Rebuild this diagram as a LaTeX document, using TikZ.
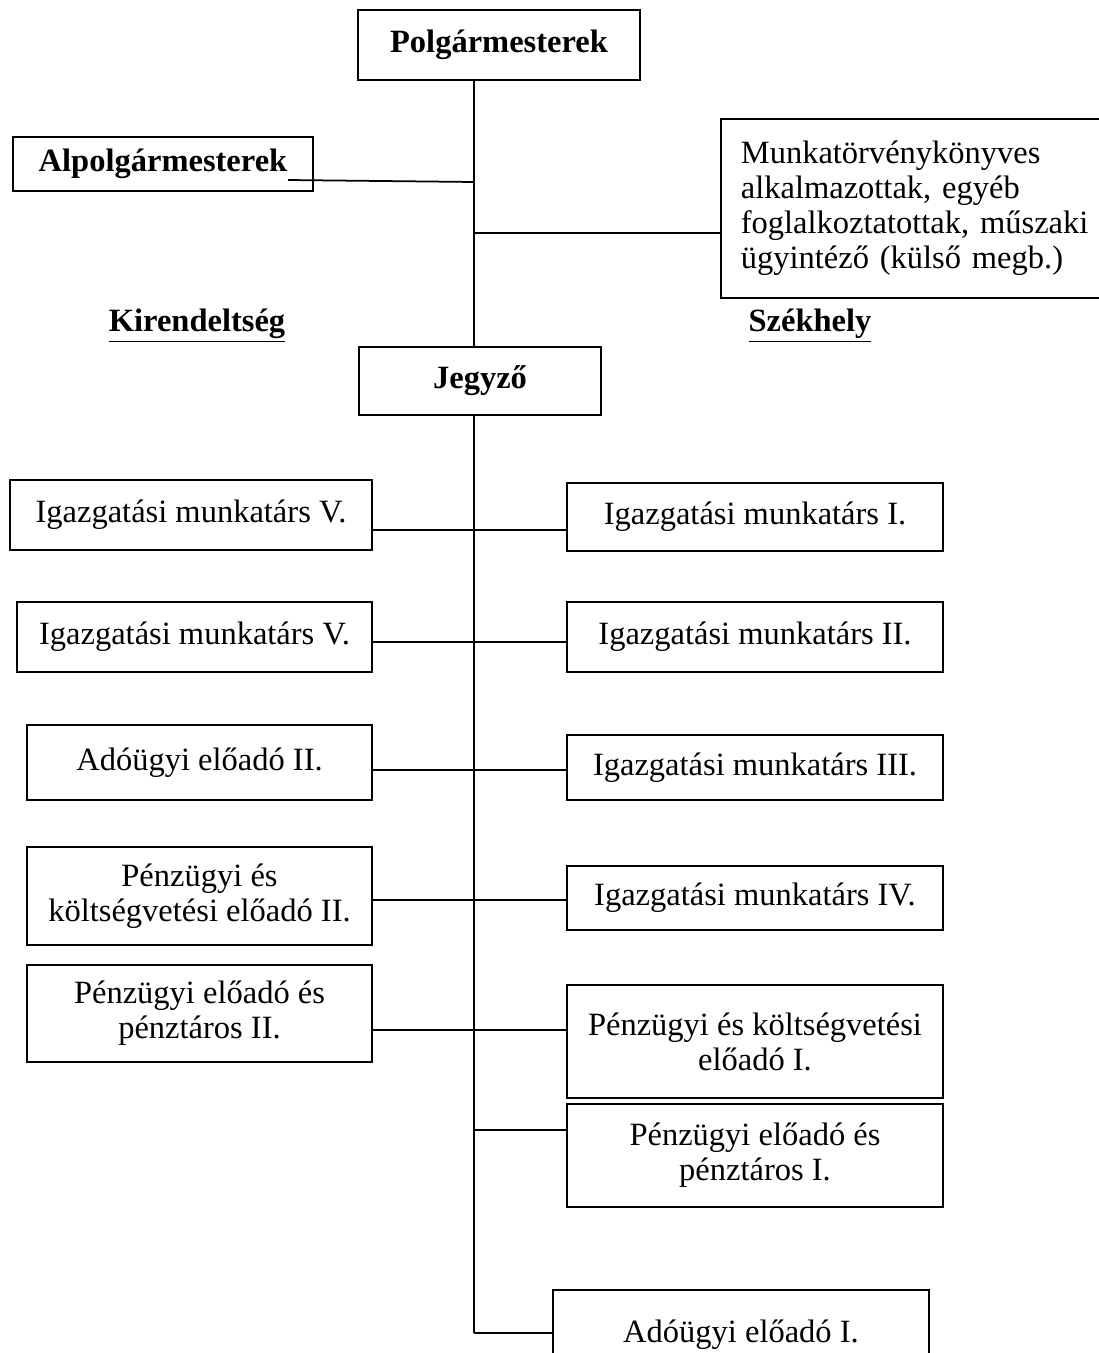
\documentclass[tikz,border=0pt]{standalone}
\usepackage{fontspec}
\setmainfont{Liberation Serif}

\begin{document}
\begin{tikzpicture}[x=0.4pt,y=-0.4pt,line width=0.7pt,
    every node/.style={font=\fontsize{13}{14}\selectfont},
    post/.style={draw,inner sep=0pt,align=center},
    meret/.style 2 args={minimum width=#1*0.4pt,minimum height=#2*0.4pt}]
  \useasboundingbox (0,0) rectangle (1099,1353);
  % vezetes
  \node[post,meret={282}{70}] (polg) at (499,45) {\bfseries Polgármesterek};
  \node[post,meret={300}{54}] (alpolg) at (163,164) {\bfseries Alpolgármesterek};
  \node[draw,anchor=north west,inner xsep=8pt,inner ysep=0pt,text width=144pt,
    minimum height=71.6pt,align=left] (munka) at (720,118)
    {Munkatörvénykönyves\\alkalmazottak, egyéb\\foglalkoztatottak, műszaki\\ügyintéző (külső megb.)};
  \node (kir) at (197,326) {\bfseries\underline{Kirendeltség}};
  \node (szek) at (810,326) {\bfseries\underline{Székhely}};
  \node[post,meret={242}{68}] (jegyzo) at (480,381) {\bfseries Jegyző};
  % kirendeltseg
  \node[post,meret={362}{70}] (l1) at (191,515) {Igazgatási munkatárs V.};
  \node[post,meret={355}{70}] (l2) at (194.5,637) {Igazgatási munkatárs V.};
  \node[post,meret={345}{75}] (l3) at (199.5,762.5) {Adóügyi előadó II.};
  \node[post,meret={345}{98}] (l4) at (199.5,896) {Pénzügyi és\\költségvetési előadó II.};
  \node[post,meret={345}{97}] (l5) at (199.5,1013.5) {Pénzügyi előadó és\\pénztáros II.};
  % szekhely
  \node[post,meret={376}{68}] (r1) at (755,517) {Igazgatási munkatárs I.};
  \node[post,meret={376}{70}] (r2) at (755,637) {Igazgatási munkatárs II.};
  \node[post,meret={376}{65}] (r3) at (755,767.5) {Igazgatási munkatárs III.};
  \node[post,meret={376}{64}] (r4) at (755,898) {Igazgatási munkatárs IV.};
  \node[post,meret={376}{113}] (r5) at (755,1041.5) {Pénzügyi és költségvetési\\előadó I.};
  \node[post,meret={376}{103}] (r6) at (755,1155.5) {Pénzügyi előadó és\\pénztáros I.};
  \node[post,meret={376}{90}] (r7) at (741,1335) {Adóügyi előadó I.};
  % gerinc
  \coordinate (a0) at (288,180);
  \coordinate (j0) at (474,182);
  \coordinate (jm) at (474,233);
  \coordinate (j1) at (474,530);
  \coordinate (j2) at (474,642);
  \coordinate (j3) at (474,770);
  \coordinate (j4) at (474,900);
  \coordinate (j5) at (474,1030);
  \coordinate (j6) at (474,1130);
  \coordinate (j7) at (474,1333);
  \draw (polg.south -| j0) -- (jegyzo.north -| j0);
  \draw (a0) -- (j0);
  \draw (jm) -- (munka.west |- jm);
  \draw (jegyzo.south -| j6) -- (j7);
  \foreach \l/\r/\j in {l1/r1/j1,l2/r2/j2,l3/r3/j3,l4/r4/j4,l5/r5/j5}
    \draw (\l.east |- \j) -- (\r.west |- \j);
  \draw (j6) -- (r6.west |- j6);
  \draw (j7) -- (r7.west |- j7);
\end{tikzpicture}
\end{document}
